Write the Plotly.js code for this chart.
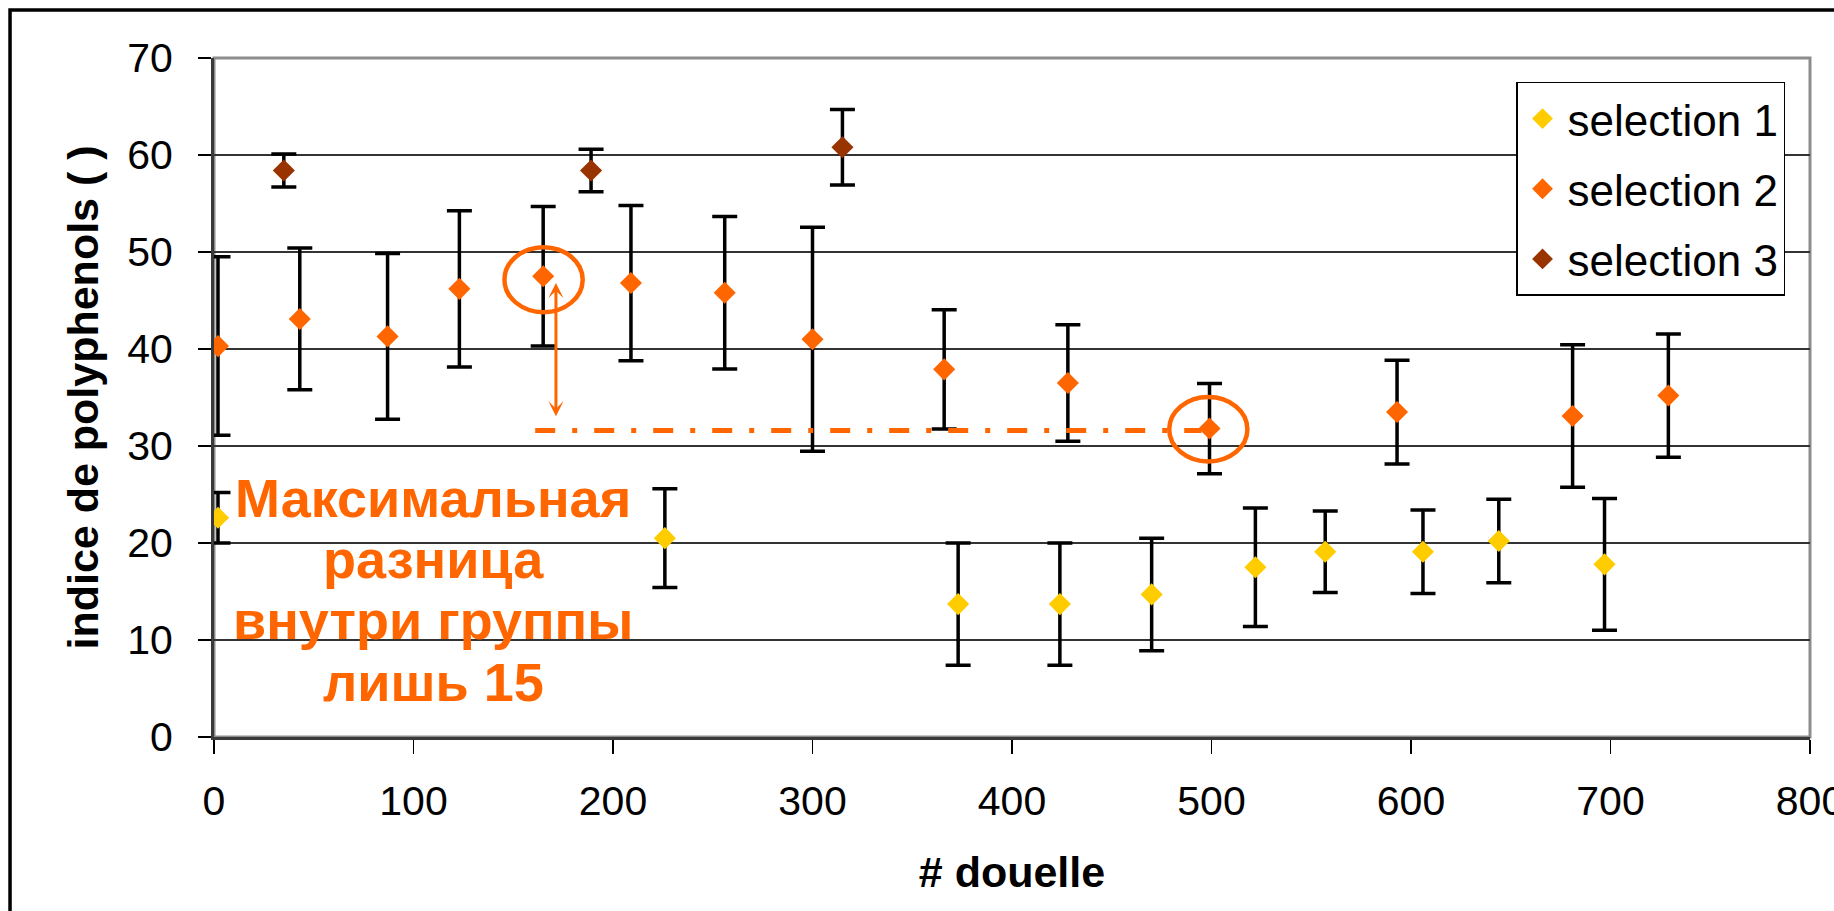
<!DOCTYPE html>
<html>
<head>
<meta charset="utf-8">
<script src="https://cdn.plot.ly/plotly-3.0.1.min.js"></script>
<style>
  html, body { margin: 0; padding: 0; background: #ffffff; }
  #chart { width: 1834px; height: 911px; }
</style>
</head>
<body>
<div id="chart"></div>
<script>
// ---- data ----
const seriesNames = ["selection 1", "selection 2", "selection 3"];

const sel1X   = [2, 226, 373, 424, 470, 522, 557, 606, 644, 697];
const sel1Y   = [22.6, 20.5, 13.7, 13.7, 14.7, 17.5, 19.1, 19.1, 20.2, 17.8];
const sel1Err = [2.6, 5.1, 6.3, 6.3, 5.8, 6.1, 4.2, 4.3, 4.3, 6.8];

const sel2X   = [2, 43, 87, 123, 165, 209, 256, 300, 366, 428, 499, 593, 681, 729];
const sel2Y   = [40.3, 43.1, 41.3, 46.2, 47.5, 46.8, 45.8, 41.0, 37.9, 36.5, 31.8, 33.5, 33.1, 35.2];
const sel2Err = [9.2, 7.3, 8.55, 8.05, 7.2, 8.0, 7.85, 11.55, 6.15, 6.0, 4.65, 5.35, 7.35, 6.35];

const sel3X   = [35, 189, 315];
const sel3Y   = [58.4, 58.4, 60.8];
const sel3Err = [1.7, 2.2, 3.9];

const xTicks = [0, 100, 200, 300, 400, 500, 600, 700, 800];
const yTicks = [0, 10, 20, 30, 40, 50, 60, 70];

const noteLines = ["Максимальная", "разница", "внутри группы", "лишь 15"];

// ---- styles ----
const colors = ["#FFCC00", "#FF6600", "#993300"];
const ORANGE = "#FF6600";
const FONT = "Liberation Sans, Arial, sans-serif";

function mk(x, y, err, i) {
  return {
    type: "scatter", mode: "markers", name: seriesNames[i], legendgroup: "g" + i,
    x: x, y: y,
    marker: { symbol: "diamond", size: 17, color: colors[i], line: { width: 0 } },
    error_y: { type: "data", array: err, visible: true, color: "#000000", thickness: 3.5, width: 12.5 }
  };
}

const traces = [mk(sel1X, sel1Y, sel1Err, 0), mk(sel2X, sel2Y, sel2Err, 1), mk(sel3X, sel3Y, sel3Err, 2)];

// annotation text lines (one per line so that the tight line spacing matches)
const noteX = 110;
const noteYs = [24.68, 18.36, 12.04, 5.72];
const annotations = noteLines.map((t, k) => ({
  x: noteX, y: noteYs[k], xref: "x", yref: "y", text: t, showarrow: false,
  xanchor: "center", yanchor: "middle", borderpad: 0, borderwidth: 0,
  font: { family: FONT, size: 54, color: ORANGE, weight: 700 }
}));
// double-headed vertical arrow
annotations.push({
  x: 171.4, y: 46.8, ax: 171.4, ay: 32.9, xref: "x", yref: "y", axref: "x", ayref: "y",
  text: "", showarrow: true, arrowside: "end+start", arrowhead: 3, startarrowhead: 3,
  arrowsize: 0.85, startarrowsize: 0.85, arrowwidth: 3, arrowcolor: ORANGE, standoff: 0, startstandoff: 0
});

const shapes = [
  // gray plot frame
  { type: "rect", xref: "paper", yref: "paper", x0: 0, x1: 1, y0: 0, y1: 1,
    line: { color: "#8c8c8c", width: 3 }, layer: "below" },
  // outer black chart frame (cut at the right and bottom edges)
  { type: "rect", xref: "paper", yref: "paper", x0: -0.1278, x1: 1.03, y0: -0.3, y1: 1.0707,
    line: { color: "#000000", width: 3.5 }, layer: "below" },
  // circles around the two compared points
  { type: "circle", xref: "x", yref: "y", x0: 145.6, x1: 184.8, y0: 43.8, y1: 50.5,
    line: { color: ORANGE, width: 4.5 } },
  { type: "circle", xref: "x", yref: "y", x0: 478.8, x1: 518, y0: 28.4, y1: 35.05,
    line: { color: ORANGE, width: 4.5 } },
  // dash-dot reference line
  { type: "line", xref: "x", yref: "y", x0: 161, x1: 495, y0: 31.6, y1: 31.6,
    line: { color: ORANGE, width: 5, dash: "20px,17px,5px,17px" } }
];

const layout = {
  width: 1834, height: 911,
  margin: { l: 214, r: 24, t: 58, b: 174, pad: 0 },
  paper_bgcolor: "#ffffff", plot_bgcolor: "rgba(0,0,0,0)",
  font: { family: FONT, color: "#000000" },
  showlegend: true,
  legend: {
    x: 0.8158, y: 0.9647, xanchor: "left", yanchor: "top",
    bgcolor: "#ffffff", bordercolor: "#000000", borderwidth: 1.5,
    font: { family: FONT, size: 44, color: "#000000" },
    traceorder: "grouped", tracegroupgap: 10, itemwidth: 40
  },
  xaxis: {
    range: [0, 800], tickvals: xTicks, ticktext: xTicks.map(String),
    showgrid: false, zeroline: false,
    showline: true, linecolor: "#3a3a3a", linewidth: 3,
    ticks: "outside", ticklen: 14, tickwidth: 1.5, tickcolor: "#000000",
    ticklabelstandoff: 12, ticklabeloverflow: "allow",
    tickfont: { family: FONT, size: 41, color: "#000000" },
    title: { text: "# douelle", font: { family: FONT, size: 43, color: "#000000", weight: 700 }, standoff: 34 }
  },
  yaxis: {
    range: [0, 70], tickvals: yTicks, ticktext: yTicks.map(String),
    showgrid: true, gridcolor: "#333333", gridwidth: 1.3,
    zeroline: false,
    showline: true, linecolor: "#3a3a3a", linewidth: 3,
    ticks: "outside", ticklen: 13, tickwidth: 1.5, tickcolor: "#000000",
    ticklabelstandoff: 17,
    tickfont: { family: FONT, size: 41, color: "#000000" },
    title: { text: "indice de polyphenols ( )", font: { family: FONT, size: 43, color: "#000000", weight: 700 }, standoff: 16 }
  },
  shapes: shapes,
  annotations: annotations
};

Plotly.newPlot("chart", traces, layout, { displayModeBar: false, staticPlot: true });
</script>
</body>
</html>
